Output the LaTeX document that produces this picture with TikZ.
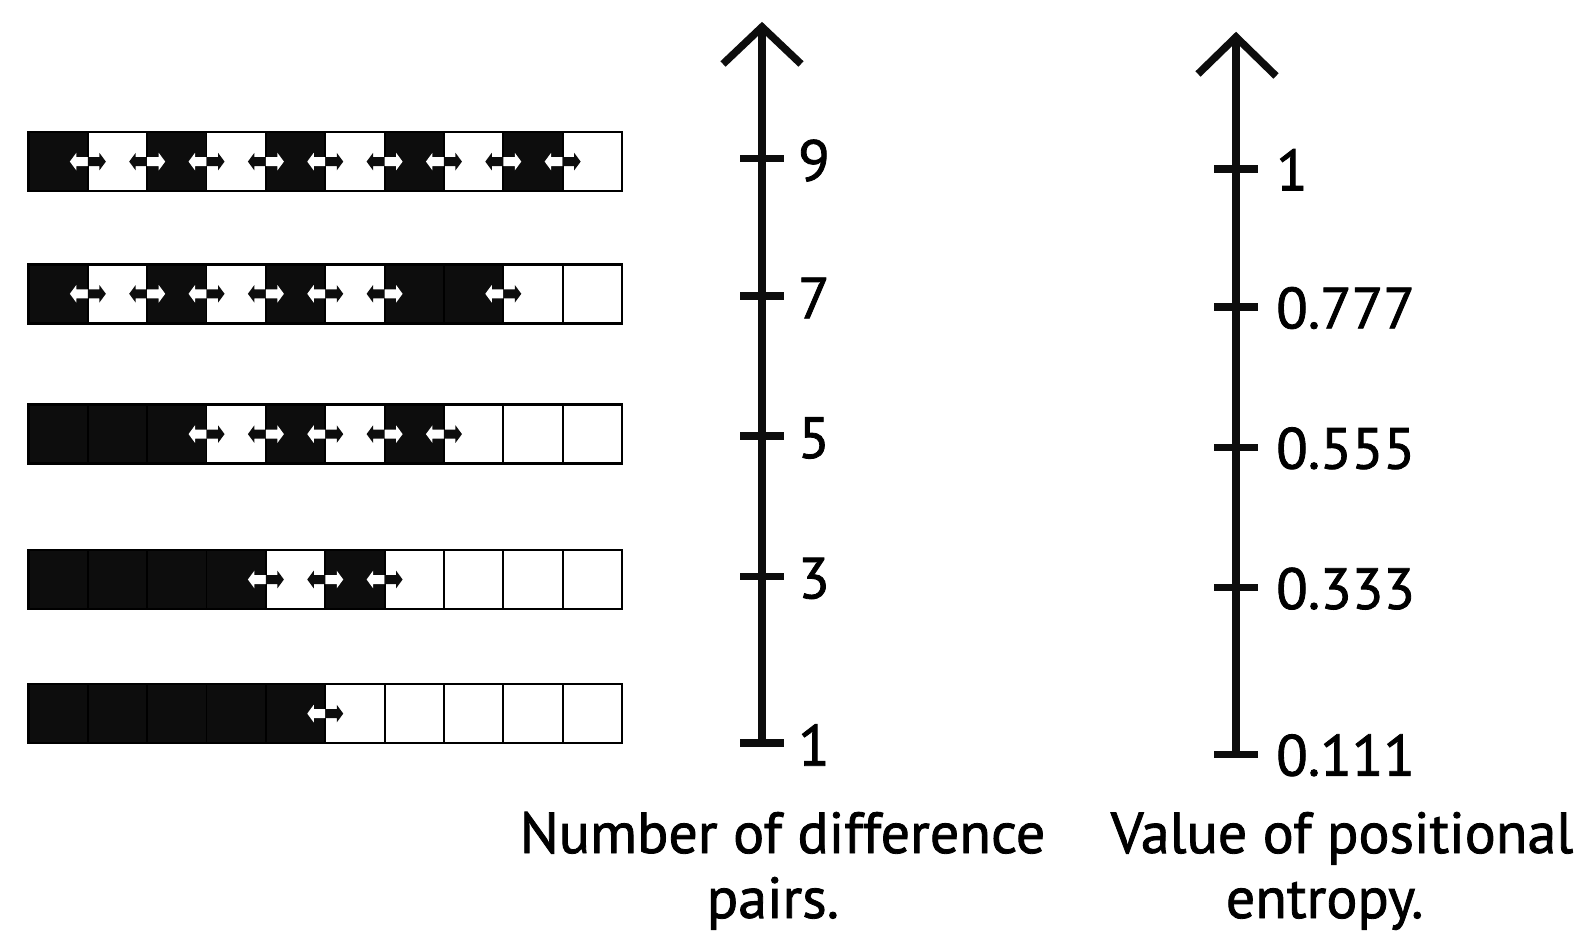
\documentclass[tikz,border=0pt]{standalone}
\usepackage{fontspec}
\setmainfont{PT Sans}[FakeBold=1.4]
\colorlet{col1}{black!95}
\colorlet{col0}{white}
\colorlet{inv1}{white}
\colorlet{inv0}{black!95}
% double arrow across a boundary: #1 = row centre y, #2 = boundary index, #3 = colour of left cell
\newcommand\dblarr[3]{%
  \pgfmathsetmacro\bx{28.5+#2*59.35}%
  \fill[inv#3] (\bx,#1-4.5) -- (\bx-11.5,#1-4.5) -- (\bx-11.5,#1-8.8) -- (\bx-18,#1) -- (\bx-11.5,#1+8.8) -- (\bx-11.5,#1+4.5) -- (\bx,#1+4.5) -- cycle;
  \fill[col#3] (\bx,#1-4.5) -- (\bx+11.5,#1-4.5) -- (\bx+11.5,#1-8.8) -- (\bx+18,#1) -- (\bx+11.5,#1+8.8) -- (\bx+11.5,#1+4.5) -- (\bx,#1+4.5) -- cycle;
}
\begin{document}
\begin{tikzpicture}[x=1pt,y=-1pt,
  cell/.style={draw=black, line width=1.8pt, minimum width=59.35pt, minimum height=59pt, inner sep=0pt, outer sep=0pt},
  frame/.style={draw=black, line width=2.4pt},
  axisline/.style={line width=7.5pt, draw=black!95},
  headline/.style={line width=7.5pt, draw=black!95, line join=miter, line cap=butt},
  lbl/.style={font=\fontsize{58}{68}\selectfont, inner sep=0pt, anchor=west},
  captext/.style={font=\fontsize{58}{68}\selectfont, inner sep=0pt, anchor=base}]
\useasboundingbox (0,0) rectangle (1594,950);
\fill[white] (0,0) rectangle (1594,950);

% rows of cells
\foreach \r/\yc/\pat in {1/161.6/{1,0,1,0,1,0,1,0,1,0},
                         2/293.8/{1,0,1,0,1,0,1,1,0,0},
                         3/434.1/{1,1,1,0,1,0,1,0,0,0},
                         4/579.5/{1,1,1,1,0,1,0,0,0,0},
                         5/713.6/{1,1,1,1,1,0,0,0,0,0}}{
  \foreach \c [count=\k] in \pat {
    \node[cell, fill=col\c] (r\r c\k) at ({28.5+(\k-0.5)*59.35}, \yc) {};
  }
  \draw[frame] (r\r c1.north west) rectangle (r\r c10.south east);
}

% difference-pair arrows
\foreach \k/\lc in {1/1,2/0,3/1,4/0,5/1,6/0,7/1,8/0,9/1} {\dblarr{161.6}{\k}{\lc}}
\foreach \k/\lc in {1/1,2/0,3/1,4/0,5/1,6/0,8/1} {\dblarr{293.8}{\k}{\lc}}
\foreach \k/\lc in {3/1,4/0,5/1,6/0,7/1} {\dblarr{434.1}{\k}{\lc}}
\foreach \k/\lc in {4/1,5/0,6/1} {\dblarr{579.5}{\k}{\lc}}
\foreach \k/\lc in {5/1} {\dblarr{713.6}{\k}{\lc}}

% left axis
\coordinate (LB) at (762,746);
\coordinate (LT) at (762,27);
\coordinate (LHl) at (723,64);
\coordinate (LHr) at (801,64);
\draw[axisline] (LB) -- (LT);
\draw[headline] (LHl) -- (LT) -- (LHr);
\foreach \v/\t in {1/743,3/576.4,5/436,7/296,9/158.6}{
  \coordinate (Lt\v a) at (740,\t);
  \coordinate (Lt\v b) at (784,\t);
  \draw[axisline] (Lt\v a) -- (Lt\v b);
  \node[lbl] (L\v) at (798,\t+2) {\v};
}

% right axis
\coordinate (RB) at (1236,757);
\coordinate (RT) at (1236,37);
\coordinate (RHl) at (1198,74);
\coordinate (RHr) at (1276,76);
\draw[axisline] (RB) -- (RT);
\draw[headline] (RHl) -- (RT) -- (RHr);
\foreach \t/\v [count=\i] in {754.3/0.111,587.6/0.333,447.3/0.555,307/0.777,168.8/1}{
  \coordinate (Rt\i a) at (1214,\t);
  \coordinate (Rt\i b) at (1258,\t);
  \draw[axisline] (Rt\i a) -- (Rt\i b);
  \node[lbl] (R\i) at (1276,\t+1) {\v};
}

% captions
\node[captext] (capL1) at (782.5,853) {Number of difference};
\node[captext] (capL2) at (773,918) {pairs.};
\node[captext] (capR1) at (1342,853) {Value of positional};
\node[captext] (capR2) at (1324.6,918) {entropy.};
\end{tikzpicture}
\end{document}
